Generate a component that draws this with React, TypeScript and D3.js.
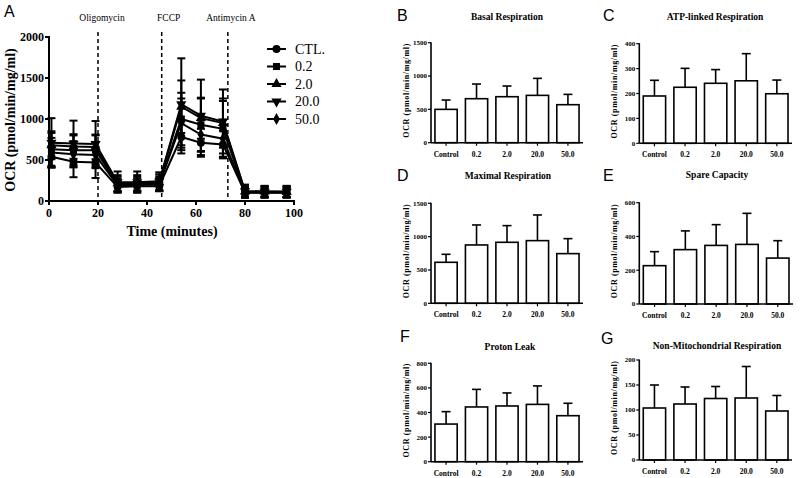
import React from "react";
import * as d3 from "d3";

// ---------- Panel A data ----------
const times = [1, 10, 19, 28, 36, 45, 54, 62, 71, 80, 88, 97];
const seriesNames = ["CTL.", "0.2", "2.0", "20.0", "50.0"];
const ctlMean = [540, 480, 470, 170, 180, 180, 780, 710, 690, 100, 100, 100];
const ctlErr = [130, 190, 190, 50, 50, 50, 200, 170, 170, 50, 50, 50];
const c02Mean = [630, 620, 620, 205, 205, 210, 1000, 930, 880, 110, 110, 110];
const c02Err = [200, 180, 180, 90, 90, 90, 320, 320, 340, 70, 70, 70];
const c20Mean = [680, 665, 660, 215, 215, 225, 1150, 1010, 950, 115, 115, 110];
const c20Err = [170, 150, 150, 100, 100, 100, 320, 250, 300, 60, 60, 60];
const c200Mean = [710, 700, 695, 230, 230, 240, 1180, 1040, 970, 120, 115, 115];
const c200Err = [300, 280, 280, 130, 130, 110, 560, 440, 390, 80, 70, 70];
const c500Mean = [590, 570, 560, 190, 195, 200, 950, 810, 760, 105, 105, 105];
const c500Err = [180, 160, 160, 80, 80, 80, 300, 250, 230, 60, 60, 60];
const injections = [
  { t: 20, label: "Oligomycin" },
  { t: 46, label: "FCCP" },
  { t: 73, label: "Antimycin A" },
];
const aYTicks = [0, 500, 1000, 1500, 2000];
const aXTicks = [0, 20, 40, 60, 80, 100];

// ---------- Bar panel data ----------
const barCategories = ["Control", "0.2", "2.0", "20.0", "50.0"];
const basalMean = [500, 660, 690, 710, 570];
const basalErr = [140, 220, 160, 255, 155];
const atpMean = [190, 225, 241, 251, 199];
const atpErr = [63, 76, 55, 109, 55];
const maxMean = [615, 875, 915, 940, 745];
const maxErr = [120, 300, 250, 385, 225];
const spareMean = [227, 322, 347, 353, 272];
const spareErr = [83, 111, 123, 184, 103];
const leakMean = [306, 445, 453, 466, 374];
const leakErr = [101, 143, 106, 150, 101];
const nonMitoMean = [104, 112, 123, 124, 98];
const nonMitoErr = [46, 34, 24, 63, 31];
const ticks1500 = [0, 500, 1000, 1500];
const ticks400 = [0, 100, 200, 300, 400];
const ticks600 = [0, 200, 400, 600];
const ticks800 = [0, 200, 400, 600, 800];
const ticks200 = [0, 50, 100, 150, 200];

const SERIF = "'Liberation Serif', 'Times New Roman', serif";
const SANS = "'Liberation Sans', Arial, sans-serif";

const symbolTypes = [d3.symbolCircle, d3.symbolSquare, d3.symbolTriangle, d3.symbolTriangle, d3.symbolDiamond];
const symbolRot = [0, 0, 0, 180, 0];
const symbolSizes = [50, 50, 45, 45, 40];

function PanelA() {
  const x = d3.scaleLinear().domain([0, 100]).range([49, 294]);
  const y = d3.scaleLinear().domain([0, 2000]).range([201, 37]);
  const means = [ctlMean, c02Mean, c20Mean, c200Mean, c500Mean];
  const errs = [ctlErr, c02Err, c20Err, c200Err, c500Err];
  const line = d3.line<number>().x((_, i) => x(times[i])).y((d) => y(d));
  const cap = 4;
  return (
    <g>
      <text x={4} y={17} fontFamily={SANS} fontSize={16}>A</text>
      {injections.map((inj) => (
        <g key={inj.label}>
          <line x1={x(inj.t)} x2={x(inj.t)} y1={32} y2={201} stroke="#000" strokeWidth={1.5} strokeDasharray="4,3" />
          <text x={x(inj.t) + (inj.label === "FCCP" ? 7 : inj.label === "Oligomycin" ? 4 : 3)} y={21} textAnchor="middle" fontFamily={SERIF} fontSize={9.5}>{inj.label}</text>
        </g>
      ))}
      {/* error bars */}
      {means.map((m, s) => (
        <g key={"e" + s}>
          {m.map((v, i) => {
            const cx = x(times[i]);
            const yt = y(v + errs[s][i]);
            const yb = y(Math.max(0, v - errs[s][i]));
            return (
              <g key={i}>
                <line x1={cx} x2={cx} y1={yt} y2={yb} stroke="#000" strokeWidth={2} />
                <line x1={cx - cap} x2={cx + cap} y1={yt} y2={yt} stroke="#000" strokeWidth={2} />
                <line x1={cx - cap} x2={cx + cap} y1={yb} y2={yb} stroke="#000" strokeWidth={2} />
              </g>
            );
          })}
        </g>
      ))}
      {means.map((m, s) => (
        <path key={"l" + s} d={line(m) || ""} fill="none" stroke="#000" strokeWidth={2} />
      ))}
      {means.map((m, s) => (
        <g key={"m" + s}>
          {m.map((v, i) => (
            <path
              key={i}
              d={d3.symbol().type(symbolTypes[s]).size(symbolSizes[s])() || ""}
              transform={`translate(${x(times[i])},${y(v)}) rotate(${symbolRot[s]})`}
              fill="#000"
            />
          ))}
        </g>
      ))}
      {/* axes */}
      <line x1={49} x2={49} y1={36} y2={201} stroke="#000" strokeWidth={2} />
      <line x1={49} x2={295} y1={201} y2={201} stroke="#000" strokeWidth={2} />
      {aYTicks.map((t) => (
        <g key={"yt" + t}>
          <line x1={45} x2={49} y1={y(t)} y2={y(t)} stroke="#000" strokeWidth={2} />
          <text x={44} y={y(t)} dy="0.35em" textAnchor="end" fontFamily={SERIF} fontWeight="bold" fontSize={12}>{t}</text>
        </g>
      ))}
      {aXTicks.map((t) => (
        <g key={"xt" + t}>
          <line x1={x(t)} x2={x(t)} y1={201} y2={205} stroke="#000" strokeWidth={2} />
          <text x={x(t)} y={217} textAnchor="middle" fontFamily={SERIF} fontWeight="bold" fontSize={12}>{t}</text>
        </g>
      ))}
      <text x={172} y={236} textAnchor="middle" fontFamily={SERIF} fontWeight="bold" fontSize={14}>Time (minutes)</text>
      <text transform="translate(15,120) rotate(-90)" textAnchor="middle" fontFamily={SERIF} fontWeight="bold" fontSize={14}>OCR (pmol/min/mg/ml)</text>
      {/* legend */}
      {seriesNames.map((n, i) => {
        const ly = 49 + i * 17.5;
        return (
          <g key={n}>
            <line x1={267} x2={286} y1={ly} y2={ly} stroke="#000" strokeWidth={2} />
            <path
              d={d3.symbol().type(symbolTypes[i]).size(symbolSizes[i])() || ""}
              transform={`translate(276.5,${ly}) rotate(${symbolRot[i]})`}
              fill="#000"
            />
            <text x={295} y={ly} dy="0.35em" fontFamily={SERIF} fontSize={14}>{n}</text>
          </g>
        );
      })}
    </g>
  );
}

type BarProps = {
  letter: string; letterX: number; letterY: number;
  title: string; titleX: number; titleY: number;
  axisX: number; axisEnd: number; y0: number; y1: number;
  max: number; ticks: number[]; means: number[]; errs: number[];
};

function BarPanel(p: BarProps) {
  const x = d3.scaleBand().domain(barCategories).range([p.axisX, p.axisEnd]).paddingInner(0.27).paddingOuter(0.13);
  const y = d3.scaleLinear().domain([0, p.max]).range([p.y0, p.y1]);
  const bw = x.bandwidth();
  const cap = 4.5;
  return (
    <g>
      <text x={p.letterX} y={p.letterY} fontFamily={SANS} fontSize={16}>{p.letter}</text>
      <text x={p.titleX} y={p.titleY} textAnchor="middle" fontFamily={SERIF} fontWeight="bold" fontSize={9.5}>{p.title}</text>
      <text
        transform={`translate(${p.axisX - 22},${(p.y0 + p.y1) / 2 - 2}) rotate(-90)`}
        textAnchor="middle"
        fontFamily={SERIF}
        fontWeight="bold"
        fontSize={8}
        textLength={94}
        lengthAdjust="spacing"
      >OCR (pmol/min/mg/ml)</text>
      {barCategories.map((c, i) => {
        const bx = x(c) as number;
        const cx = bx + bw / 2;
        const yt = y(p.means[i]);
        const ye = y(p.means[i] + p.errs[i]);
        return (
          <g key={c}>
            <line x1={cx} x2={cx} y1={yt} y2={ye} stroke="#000" strokeWidth={1.6} />
            <line x1={cx - cap} x2={cx + cap} y1={ye} y2={ye} stroke="#000" strokeWidth={1.6} />
            <rect x={bx} y={yt} width={bw} height={p.y0 - yt} fill="#fff" stroke="#000" strokeWidth={1.6} />
            <line x1={cx} x2={cx} y1={p.y0} y2={p.y0 + 3} stroke="#000" strokeWidth={1.2} />
            <text x={cx} y={p.y0 + 14} textAnchor="middle" fontFamily={SERIF} fontWeight="bold" fontSize={7.5}>{c}</text>
          </g>
        );
      })}
      <line x1={p.axisX} x2={p.axisX} y1={p.y1 - 0.5} y2={p.y0} stroke="#000" strokeWidth={1.6} />
      <line x1={p.axisX} x2={p.axisEnd} y1={p.y0} y2={p.y0} stroke="#000" strokeWidth={1.6} />
      {p.ticks.map((t) => (
        <g key={t}>
          <line x1={p.axisX - 3} x2={p.axisX} y1={y(t)} y2={y(t)} stroke="#000" strokeWidth={1.2} />
          <text x={p.axisX - 4} y={y(t)} dy="0.35em" textAnchor="end" fontFamily={SERIF} fontWeight="bold" fontSize={7}>{t}</text>
        </g>
      ))}
    </g>
  );
}

export default function App() {
  return (
    <svg width={800} height={478} style={{ position: "absolute", left: 0, top: 0, background: "#fff" }}>
      <rect width={800} height={478} fill="#fff" />
      <PanelA />
      <BarPanel letter="B" letterX={397} letterY={21} title="Basal Respiration" titleX={507} titleY={20}
        axisX={431} axisEnd={583} y0={142.7} y1={42.7} max={1500} ticks={ticks1500} means={basalMean} errs={basalErr} />
      <BarPanel letter="C" letterX={603} letterY={21} title="ATP-linked Respiration" titleX={715} titleY={20}
        axisX={639.3} axisEnd={792} y0={143.3} y1={43.7} max={400} ticks={ticks400} means={atpMean} errs={atpErr} />
      <BarPanel letter="D" letterX={397} letterY={181} title="Maximal Respiration" titleX={508} titleY={179}
        axisX={431} axisEnd={583} y0={303.3} y1={203.3} max={1500} ticks={ticks1500} means={maxMean} errs={maxErr} />
      <BarPanel letter="E" letterX={603} letterY={181} title="Spare Capacity" titleX={717} titleY={178}
        axisX={639.3} axisEnd={793} y0={304} y1={202.7} max={600} ticks={ticks600} means={spareMean} errs={spareErr} />
      <BarPanel letter="F" letterX={400} letterY={342} title="Proton Leak" titleX={510} titleY={350}
        axisX={431} axisEnd={583} y0={461.7} y1={363.3} max={800} ticks={ticks800} means={leakMean} errs={leakErr} />
      <BarPanel letter="G" letterX={601} letterY={344} title="Non-Mitochondrial Respiration" titleX={717} titleY={349}
        axisX={639.3} axisEnd={792} y0={460} y1={360} max={200} ticks={ticks200} means={nonMitoMean} errs={nonMitoErr} />
    </svg>
  );
}
